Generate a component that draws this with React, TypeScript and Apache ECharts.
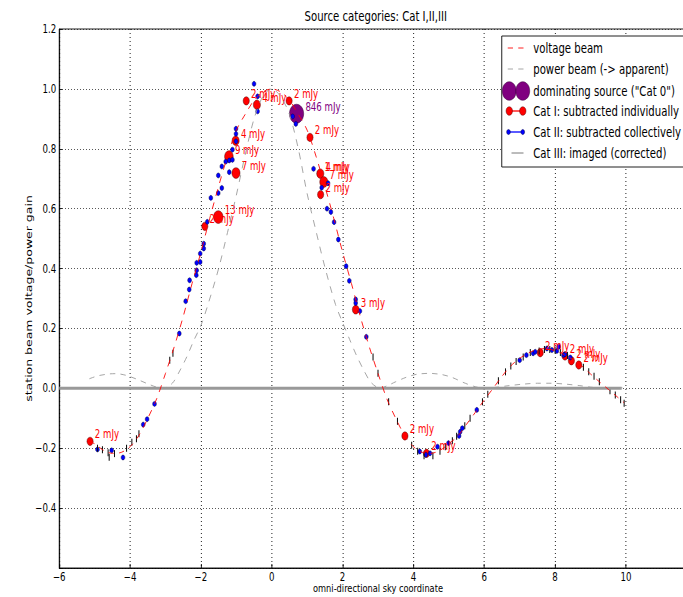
import React, { useEffect, useRef } from 'react';
import * as echarts from 'echarts';

// The reference figure is horizontally squeezed; draw wider and scale X.
const SX = 0.75;
const OUT_W = 683;
const OUT_H = 597;
const IN_W = Math.round(OUT_W / SX);
const FONT = 'DejaVu Sans, Bitstream Vera Sans, sans-serif';

const titleText = 'Source categories: Cat I,II,III';
const xAxisName = 'omni-directional sky coordinate';
const yAxisName = 'station beam voltage/power gain';

// voltage beam (red dashed)
const voltageX = [-5.15, -5.0, -4.75, -4.5, -4.25, -4.0, -3.75, -3.5, -3.25, -3.0, -2.75, -2.5, -2.25, -2.0, -1.75, -1.5, -1.25, -1.0, -0.75, -0.5, -0.25, 0, 0.25, 0.5, 0.75, 1.0, 1.25, 1.5, 1.75, 2.0, 2.25, 2.5, 2.75, 3.0, 3.25, 3.5, 3.75, 4.0, 4.25, 4.5, 4.75, 5.0, 5.25, 5.5, 5.75, 6.0, 6.25, 6.5, 6.75, 7.0, 7.25, 7.5, 7.75, 8.0, 8.25, 8.5, 8.75, 9.0, 9.25, 9.5, 9.75, 9.95];
const voltageY = [-0.178, -0.185, -0.207, -0.217, -0.214, -0.195, -0.157, -0.1, -0.035, 0.05, 0.14, 0.24, 0.35, 0.455, 0.568, 0.675, 0.775, 0.862, 0.915, 0.962, 0.99, 1.0, 0.99, 0.962, 0.915, 0.862, 0.775, 0.675, 0.568, 0.455, 0.35, 0.24, 0.14, 0.05, -0.035, -0.1, -0.157, -0.195, -0.214, -0.217, -0.207, -0.185, -0.16, -0.12, -0.08, -0.039, 0.0, 0.04, 0.075, 0.1, 0.118, 0.13, 0.133, 0.125, 0.113, 0.096, 0.075, 0.048, 0.022, -0.003, -0.028, -0.048];

// power beam (grey dashed)
const powerX = [-5.15, -4.9, -4.6, -4.4, -4.1, -3.8, -3.5, -3.25, -3.05, -2.8, -2.6, -2.4, -2.2, -2.0, -1.8, -1.5, -1.25, -1.0, -0.75, -0.5, -0.25, 0, 0.25, 0.5, 0.75, 1.0, 1.25, 1.5, 1.8, 2.0, 2.2, 2.4, 2.6, 2.8, 3.05, 3.25, 3.5, 3.8, 4.1, 4.45, 4.8, 5.1, 5.4, 5.7, 5.95, 6.3, 6.7, 7.1, 7.5, 7.9, 8.3, 8.7, 9.0, 9.25, 9.5, 9.9];
const powerY = [0.032, 0.042, 0.048, 0.049, 0.043, 0.03, 0.015, 0.004, 0.001, 0.018, 0.058, 0.105, 0.16, 0.21, 0.28, 0.4, 0.52, 0.645, 0.78, 0.9, 0.975, 1.0, 0.975, 0.915, 0.8, 0.65, 0.525, 0.405, 0.28, 0.22, 0.163, 0.108, 0.06, 0.02, 0.001, 0.008, 0.022, 0.037, 0.047, 0.05, 0.046, 0.036, 0.02, 0.007, 0.001, 0.003, 0.009, 0.014, 0.017, 0.017, 0.014, 0.009, 0.004, 0.001, 0.0, 0.002];

// zero line
const zeroX = [-6, 9.88];
const zeroY = [0, 0];

// Cat 0: dominating source
const cat0X = [0.7];
const cat0Y = [0.917];
const cat0Flux = [846];

// Cat I: subtracted individually
const catIX = [-5.13, -0.72, -0.42, 0.49, 1.08, -1.02, -1.21, -1.01, -1.89, -1.51, 1.36, 1.37, 1.47, 1.38, 2.37, 3.76, 4.37, 7.58, 8.28, 8.46, 8.67];
const catIY = [-0.177, 0.96, 0.947, 0.96, 0.838, 0.827, 0.774, 0.719, 0.541, 0.572, 0.717, 0.717, 0.689, 0.647, 0.263, -0.159, -0.217, 0.119, 0.108, 0.092, 0.078];
const catIFlux = [2, 2, 4, 2, 2, 4, 9, 7, 2, 13, 1, 4, 7, 2, 3, 2, 2, 2, 2, 2, 2];

// Cat II: subtracted collectively
const catIIX = [-4.92, -4.52, -4.2, -3.63, -3.52, -3.31, -2.61, -2.43, -2.33, -2.32, -2.13, -2.12, -2.12, -2.02, -2.02, -1.92, -1.92, -1.82, -1.72, -1.51, -1.41, -1.2, -1.51, -1.41, -1.3, -1.2, -1.11, -1.11, -1.01, -1.01, -1.01, -0.5, -0.4, -0.4, 0.59, 0.68, 1.18, 1.41, 1.59, 1.56, 1.67, 1.76, 1.88, 2.1, 2.19, 2.37, 2.37, 2.49, 2.67, 4.18, 4.35, 4.47, 4.68, 4.99, 5.29, 5.32, 5.38, 5.79, 7.0, 7.19, 7.38, 7.44, 7.77, 7.91, 8.05, 8.1, 8.24, 8.28, 8.43];
const catIIY = [-0.204, -0.207, -0.231, -0.121, -0.103, -0.052, 0.183, 0.291, 0.33, 0.361, 0.378, 0.394, 0.419, 0.422, 0.45, 0.467, 0.483, 0.556, 0.636, 0.652, 0.669, 0.722, 0.711, 0.741, 0.757, 0.761, 0.763, 0.797, 0.825, 0.85, 0.867, 1.017, 0.975, 0.925, 0.908, 0.883, 0.733, 0.67, 0.685, 0.6, 0.589, 0.555, 0.497, 0.408, 0.359, 0.297, 0.285, 0.258, 0.172, -0.211, -0.222, -0.217, -0.195, -0.183, -0.159, -0.145, -0.133, -0.072, 0.094, 0.111, 0.117, 0.122, 0.133, 0.128, 0.125, 0.139, 0.111, 0.114, 0.103];

// Cat III: imaged (corrected)
const catIIIX = [-4.92, -4.78, -4.62, -4.59, -4.44, -4.1, -3.95, -3.82, -3.75, -2.88, -2.79, 2.86, 3.0, 3.3, 3.55, 3.95, 4.12, 4.3, 4.55, 4.75, 4.9, 5.1, 5.22, 5.45, 5.6, 5.95, 6.1, 6.4, 6.6, 6.75, 6.9, 7.1, 7.3, 7.55, 7.7, 7.85, 8.0, 8.15, 8.35, 8.8, 8.95, 9.1, 9.25, 9.55, 9.7, 9.85, 9.95];
const catIIIY = [-0.2, -0.205, -0.215, -0.23, -0.218, -0.2, -0.18, -0.168, -0.152, 0.094, 0.117, 0.105, 0.05, -0.045, -0.11, -0.19, -0.21, -0.225, -0.225, -0.21, -0.195, -0.175, -0.16, -0.125, -0.1, -0.045, -0.02, 0.025, 0.055, 0.075, 0.09, 0.105, 0.12, 0.125, 0.13, 0.13, 0.128, 0.12, 0.11, 0.07, 0.055, 0.04, 0.022, -0.008, -0.022, -0.038, -0.05];

const legendLabels = [
  'voltage beam',
  'power beam (-> apparent)',
  'dominating source ("Cat 0")',
  'Cat I: subtracted individually',
  'Cat II: subtracted collectively',
  'Cat III: imaged (corrected)',
];

const zip = (xs: number[], ys: number[]) => xs.map((x, i) => [x, ys[i]]);
const minus = (s: string) => s.replace('-', '\u2212');

function buildLegend() {
  const rows = [48, 69, 91, 111, 132, 153];
  const x0 = 677;
  const x1 = 698;
  const els: any[] = [];
  els.push({ type: 'rect', z: 100, shape: { x: 669, y: 36, width: 320, height: 131 }, style: { fill: '#fff', stroke: '#000', lineWidth: 1 } });
  els.push({ type: 'line', z: 101, shape: { x1: x0, y1: rows[0], x2: x1, y2: rows[0] }, style: { stroke: '#ff0000', lineWidth: 1, lineDash: [7, 7] } });
  els.push({ type: 'line', z: 101, shape: { x1: x0, y1: rows[1], x2: x1, y2: rows[1] }, style: { stroke: '#999', lineWidth: 1, lineDash: [7, 7] } });
  els.push({ type: 'circle', z: 101, shape: { cx: 679, cy: rows[2], r: 9.3 }, style: { fill: '#800080', stroke: '#3a003a', lineWidth: 0.6 } });
  els.push({ type: 'circle', z: 101, shape: { cx: 697, cy: rows[2], r: 9.3 }, style: { fill: '#800080', stroke: '#3a003a', lineWidth: 0.6 } });
  els.push({ type: 'line', z: 101, shape: { x1: 679, y1: rows[3], x2: 697, y2: rows[3] }, style: { stroke: '#ff0000', lineWidth: 1.3 } });
  els.push({ type: 'circle', z: 102, shape: { cx: 679, cy: rows[3], r: 4.3 }, style: { fill: '#ff0000', stroke: '#400', lineWidth: 0.5 } });
  els.push({ type: 'circle', z: 102, shape: { cx: 697, cy: rows[3], r: 4.3 }, style: { fill: '#ff0000', stroke: '#400', lineWidth: 0.5 } });
  els.push({ type: 'line', z: 101, shape: { x1: 678, y1: rows[4], x2: 697, y2: rows[4] }, style: { stroke: '#0000ff', lineWidth: 1.3 } });
  els.push({ type: 'circle', z: 102, shape: { cx: 678, cy: rows[4], r: 2.5 }, style: { fill: '#0000ff', stroke: '#000033', lineWidth: 0.5 } });
  els.push({ type: 'circle', z: 102, shape: { cx: 697, cy: rows[4], r: 2.5 }, style: { fill: '#0000ff', stroke: '#000033', lineWidth: 0.5 } });
  els.push({ type: 'line', z: 101, shape: { x1: 682, y1: rows[5], x2: 698, y2: rows[5] }, style: { stroke: '#666', lineWidth: 1 } });
  legendLabels.forEach((t, i) => {
    els.push({ type: 'text', z: 102, x: 711, y: rows[i], style: { text: t, fill: '#000', fontSize: 13.5, fontFamily: FONT, verticalAlign: 'middle', align: 'left' } });
  });
  return els;
}

function buildOption(): any {
  const axisText = { fontFamily: FONT, color: '#000' };
  return {
    animation: false,
    backgroundColor: '#fff',
    title: {
      text: titleText,
      left: 501,
      top: 9,
      padding: 0,
      textAlign: 'center',
      textStyle: { ...axisText, fontSize: 13.5, fontWeight: 'normal' },
    },
    grid: {
      left: 79, width: 850, top: 29, height: 539,
      outerBoundsMode: 'none', containLabel: false,
      show: true, borderColor: '#000', borderWidth: 1, backgroundColor: 'transparent',
    },
    xAxis: {
      type: 'value', min: -6, max: 12, interval: 2,
      name: xAxisName, nameLocation: 'middle', nameGap: 15, nameMoveOverlap: false,
      nameTextStyle: { ...axisText, fontSize: 11 },
      axisLine: { onZero: false, lineStyle: { color: '#000', width: 1 } },
      axisTick: { inside: true, length: 4, lineStyle: { color: '#000' } },
      axisLabel: { ...axisText, fontSize: 11.5, margin: 3, formatter: (v: number) => (v > 10.5 ? '' : minus(String(v))) },
      splitLine: { show: true, lineStyle: { color: '#000', type: [1, 3], width: 1 } },
    },
    yAxis: {
      type: 'value', min: -0.6, max: 1.2, interval: 0.2,
      name: yAxisName, nameLocation: 'middle', nameGap: 34, nameMoveOverlap: false,
      nameTextStyle: { ...axisText, fontSize: 12.5 },
      axisLine: { onZero: false, lineStyle: { color: '#000', width: 1 } },
      axisTick: { inside: true, length: 4, lineStyle: { color: '#000' } },
      axisLabel: {
        ...axisText, fontSize: 11.5, margin: 4,
        formatter: (v: number) => {
          if (v < -0.55) return '';
          const r = Math.abs(v) < 1e-9 ? 0 : v;
          return minus(r.toFixed(1));
        },
      },
      splitLine: { show: true, lineStyle: { color: '#000', type: [1, 3], width: 1 } },
    },
    series: [
      { name: 'zero', type: 'line', data: zip(zeroX, zeroY), symbol: 'none', lineStyle: { color: '#999', width: 3 }, silent: true },
      { name: 'power beam (-> apparent)', type: 'line', data: zip(powerX, powerY), symbol: 'none', smooth: 0.3, lineStyle: { color: '#999', width: 1, type: [7, 7] } },
      { name: 'voltage beam', type: 'line', data: zip(voltageX, voltageY), symbol: 'none', smooth: 0.3, lineStyle: { color: '#ff0000', width: 1, type: [7, 7] } },
      {
        name: 'dominating source ("Cat 0")', type: 'scatter', symbol: 'circle', symbolSize: 19,
        data: cat0X.map((x, i) => ({ value: [x, cat0Y[i]], name: `${cat0Flux[i]} mJy` })),
        itemStyle: { color: '#800080', borderColor: '#3a003a', borderWidth: 0.6, opacity: 1 },
        label: { show: true, position: 'right', distance: 2, offset: [0, -7], formatter: '{b}', color: '#800080', fontSize: 11.5, fontFamily: FONT },
      },
      {
        name: 'Cat I: subtracted individually', type: 'scatter', symbol: 'circle',
        data: catIX.map((x, i) => ({ value: [x, catIY[i]], name: `${catIFlux[i]} mJy`, symbolSize: 5.5 + 2 * Math.sqrt(catIFlux[i]) })),
        itemStyle: { color: '#ff0000', borderColor: '#400', borderWidth: 0.5, opacity: 1 },
        label: { show: true, position: 'right', distance: 2, offset: [0, -7], formatter: '{b}', color: '#ff0000', fontSize: 11.5, fontFamily: FONT },
      },
      {
        name: 'Cat II: subtracted collectively', type: 'scatter', symbol: 'circle', symbolSize: 5,
        data: zip(catIIX, catIIY),
        itemStyle: { color: '#0000ff', borderColor: '#000033', borderWidth: 0.5, opacity: 1 },
      },
      {
        name: 'Cat III: imaged (corrected)', type: 'scatter', symbol: 'rect', symbolSize: [1.4, 7],
        data: zip(catIIIX, catIIIY),
        itemStyle: { color: '#111', opacity: 1 },
      },
    ],
    graphic: { elements: buildLegend() },
  };
}

export default function App() {
  const ref = useRef<HTMLDivElement>(null);
  useEffect(() => {
    if (!ref.current) return;
    const chart = echarts.init(ref.current, null, { renderer: 'svg', width: IN_W, height: OUT_H });
    chart.setOption(buildOption());
    return () => chart.dispose();
  }, []);
  return (
    <div style={{ position: 'fixed', left: 0, top: 0, width: OUT_W, height: OUT_H, overflow: 'hidden', background: '#fff' }}>
      <div ref={ref} style={{ width: IN_W, height: OUT_H, transform: `scaleX(${SX})`, transformOrigin: '0 0' }} />
    </div>
  );
}
